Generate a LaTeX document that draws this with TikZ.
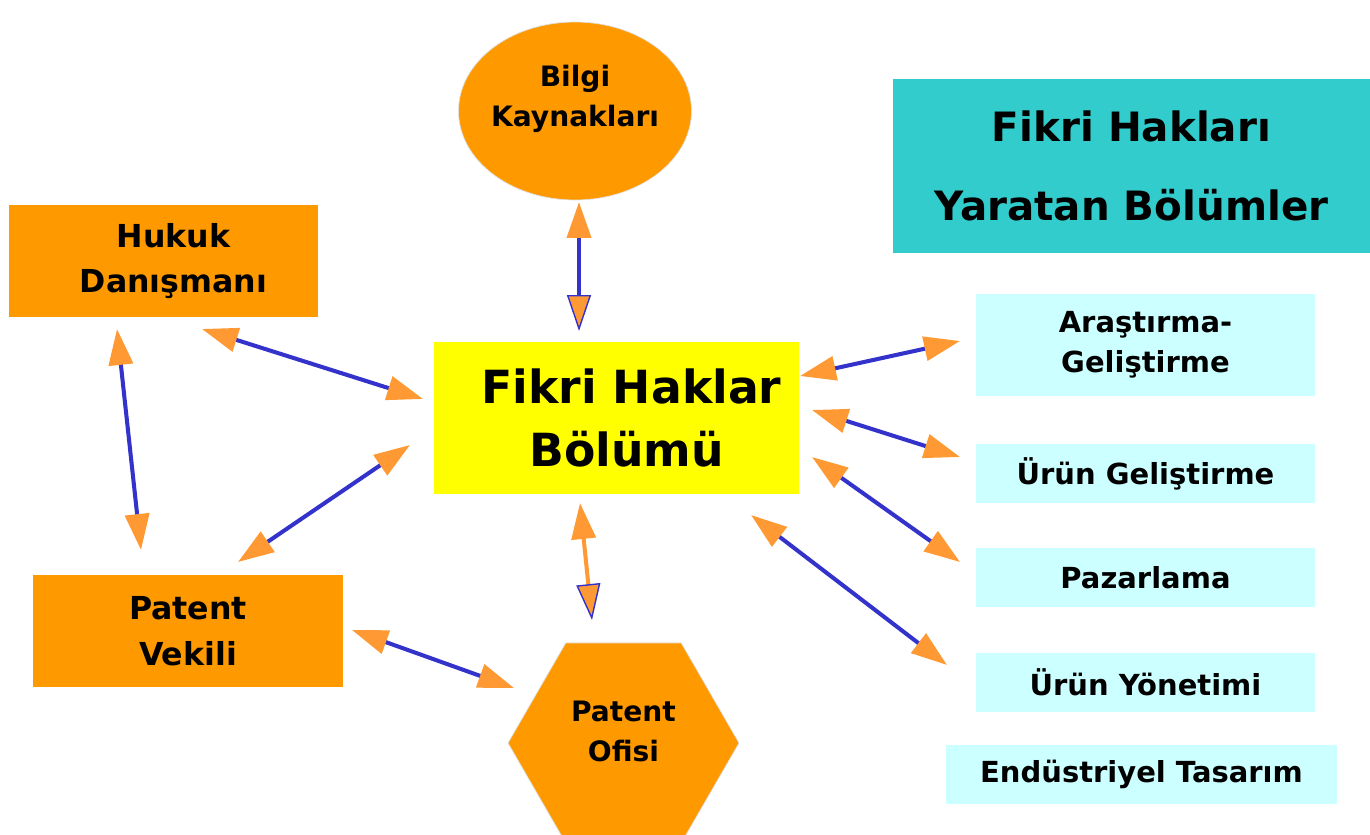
\documentclass[tikz,border=0pt]{standalone}
\usepackage{fontspec}
\setmainfont{DejaVu Sans}
\usepackage{tikz}
\usetikzlibrary{arrows.meta}
\usetikzlibrary{shapes.geometric}
\usepackage{xcolor}

\definecolor{boxorange}{HTML}{FF9900}
\definecolor{boxyellow}{HTML}{FFFF00}
\definecolor{titleteal}{HTML}{33CCCC}
\definecolor{deptcyan}{HTML}{CCFFFF}
\definecolor{linkblue}{HTML}{3333CC}
\definecolor{tiporange}{HTML}{FF9933}

\tikzset{
  orangetip/.tip={Triangle[length=0.72cm,width=0.48cm,color=tiporange]},
  bluetip/.tip={Triangle[length=0.72cm,width=0.48cm,fill=tiporange,color=linkblue,line width=0.8pt]}
}

\begin{document}
\begin{tikzpicture}[x=0.02cm, y=-0.02cm,
    orangebox/.style={fill=boxorange, align=center, minimum width=6.2cm, minimum height=2.24cm, font=\bfseries\fontsize{18}{26}\selectfont},
    deptbox/.style={fill=deptcyan, align=center, minimum width=6.78cm, minimum height=1.18cm, font=\bfseries\fontsize{16.5}{22.5}\selectfont},
    link/.style={draw=linkblue, line width=2.3pt, arrows={orangetip-orangetip}}]
    \useasboundingbox (0,0) rectangle (1370,835);

    % Outer partners
    \node (bilgi) [ellipse, fill=boxorange, draw=gray!25, minimum width=4.66cm, minimum height=3.56cm, inner xsep=-2pt, text depth=0.6cm, align=center, font=\bfseries\fontsize{16}{23}\selectfont] at (575,111) {Bilgi\\Kaynakları};
    \node (hukuk) [orangebox, minimum width=6.18cm] at (163.5,261) {\hspace*{0.4cm}Hukuk\\\hspace*{0.4cm}Danışmanı};
    \node (vekil) [orangebox] at (188,631) {Patent\\Vekili};
    \node (ofis) [regular polygon, regular polygon sides=6, fill=boxorange, draw=gray!25, minimum size=4.62cm, text depth=0.48cm, align=center, font=\bfseries\fontsize{16}{23}\selectfont] at (623.5,743) {Patent\\Ofisi};

    % Central unit
    \node (fikri) [fill=boxyellow, minimum width=7.3cm, minimum height=3.04cm, align=center, font=\bfseries\fontsize{26}{36}\selectfont] at (616.5,418) {\hspace*{0.6cm}Fikri Haklar\\\hspace*{0.4cm}Bölümü};

    % Departments creating rights
    \node (baslik) [fill=titleteal, minimum width=9.54cm, minimum height=3.48cm, align=center, font=\bfseries\fontsize{23}{45}\selectfont] at (1131.5,166) {Fikri Hakları\\Yaratan Bölümler};
    \node (arge) [deptbox, minimum height=2.04cm] at (1145.5,345) {Araştırma-\\Geliştirme};
    \node (urun) [deptbox] at (1145.5,473.5) {Ürün Geliştirme};
    \node (pazar) [deptbox] at (1145.5,577.5) {Pazarlama};
    \node (yonetim) [deptbox] at (1145.5,682.5) {Ürün Yönetimi};
    \node (tasarim) [deptbox, minimum width=7.82cm] at (1141.5,774.5) {Endüstriyel Tasarım};

    % Arrow ends
    \coordinate (bilgiS) at (579,202);   \coordinate (fikriN) at (579,331);
    \coordinate (hukukSE) at (202,329);  \coordinate (fikriW) at (423,399);
    \coordinate (hukukS) at (117,329);   \coordinate (vekilN) at (141,550);
    \coordinate (vekilNE) at (238,562);  \coordinate (fikriSW) at (410,445);
    \coordinate (fikriS) at (580,503);   \coordinate (ofisN) at (592,620);
    \coordinate (vekilE) at (352,630);   \coordinate (ofisW) at (514,688);
    \coordinate (fikriE1) at (800,376);  \coordinate (argeW) at (960,341);
    \coordinate (fikriE2) at (812,410);  \coordinate (urunW) at (960,457);
    \coordinate (fikriE3) at (812,457);  \coordinate (pazarW) at (960,562);
    \coordinate (fikriSE) at (751,515);  \coordinate (yonetimW) at (947,665);

    % Arrows
    \draw[link, arrows={orangetip-bluetip}] (bilgiS) -- (fikriN);
    \draw[link] (hukukSE) -- (fikriW);
    \draw[link] (hukukS) -- (vekilN);
    \draw[link] (vekilNE) -- (fikriSW);
    \draw[link, draw=tiporange, arrows={orangetip-bluetip}] (fikriS) -- (ofisN);
    \draw[link] (vekilE) -- (ofisW);
    \draw[link] (fikriE1) -- (argeW);
    \draw[link] (fikriE2) -- (urunW);
    \draw[link] (fikriE3) -- (pazarW);
    \draw[link] (fikriSE) -- (yonetimW);
\end{tikzpicture}
\end{document}
